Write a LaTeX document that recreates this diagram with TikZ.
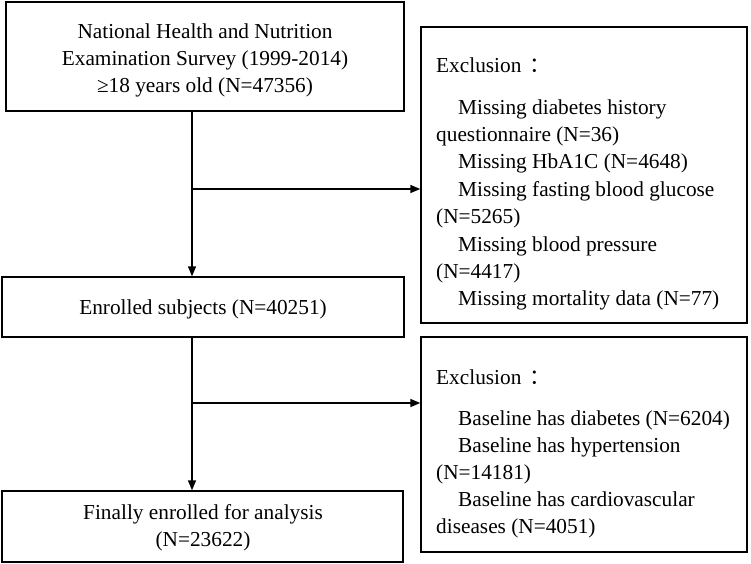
\documentclass[tikz,border=0pt]{standalone}
\usepackage{fontspec}
\setmainfont{Liberation Serif}
\newfontfamily\cjk{Noto Sans CJK SC}
\usetikzlibrary{arrows.meta}
\tikzset{
  box/.style={draw, line width=1.4pt, inner sep=0pt, align=center, font=\fontsize{21.3}{27}\selectfont},
  ln/.style={anchor=base west, inner sep=0pt, font=\fontsize{21.3}{27}\selectfont},
  arr/.style={line width=1.4pt, -{Triangle[length=10pt,width=8pt]}}
}
\begin{document}
\begin{tikzpicture}[x=1pt,y=-1pt]
\useasboundingbox (0,0) rectangle (751,563);
\node[box, minimum width=398pt, minimum height=109pt] (b1) at (205,56.5) {};
\node[box, minimum width=402pt, minimum height=60pt] (b3) at (203,307) {};
\node[box, minimum width=401pt, minimum height=71pt] (b5) at (202.5,526.5) {};
\node[box, minimum width=326pt, minimum height=296pt] (e1) at (584,175) {};
\node[box, minimum width=326pt, minimum height=215pt] (e2) at (584,444.5) {};
% main box texts
\node[box, draw=none, anchor=base] (b1t1) at (205,38) {National Health and Nutrition};
\node[box, draw=none, anchor=base] (b1t2) at (205,65) {Examination Survey (1999-2014)};
\node[box, draw=none, anchor=base] (b1t3) at (205,92) {≥18 years old (N=47356)};
\node[box, draw=none, anchor=base] (b3t1) at (203,314) {Enrolled subjects (N=40251)};
\node[box, draw=none, anchor=base] (b5t1) at (203,519) {Finally enrolled for analysis};
\node[box, draw=none, anchor=base] (b5t2) at (203,546) {(N=23622)};
% exclusion 1 text
\node[ln] (e1t0) at (436,72) {Exclusion\hspace{8pt}{\cjk ：}};
\node[ln] (e1t1) at (458,114) {Missing diabetes history};
\node[ln] (e1t2) at (436,141) {questionnaire (N=36)};
\node[ln] (e1t3) at (458,168) {Missing HbA1C (N=4648)};
\node[ln] (e1t4) at (458,196) {Missing fasting blood glucose};
\node[ln] (e1t5) at (436,223) {(N=5265)};
\node[ln] (e1t6) at (458,251) {Missing blood pressure};
\node[ln] (e1t7) at (436,278) {(N=4417)};
\node[ln] (e1t8) at (458,305) {Missing mortality data (N=77)};
% exclusion 2 text
\node[ln] (e2t0) at (436,384) {Exclusion\hspace{8pt}{\cjk ：}};
\node[ln] (e2t1) at (458,425) {Baseline has diabetes (N=6204)};
\node[ln] (e2t2) at (458,452) {Baseline has hypertension};
\node[ln] (e2t3) at (436,479) {(N=14181)};
\node[ln] (e2t4) at (458,506) {Baseline has cardiovascular};
\node[ln] (e2t5) at (436,533) {diseases (N=4051)};
% connectors
\coordinate (j1) at (192,189);
\coordinate (j2) at (192,403);
\draw[arr] (b1.south -| j1) -- (b3.north -| j1);
\draw[arr] (j1) -- (j1 -| e1.west);
\draw[arr] (b3.south -| j2) -- (b5.north -| j2);
\draw[arr] (j2) -- (j2 -| e2.west);
\end{tikzpicture}
\end{document}
